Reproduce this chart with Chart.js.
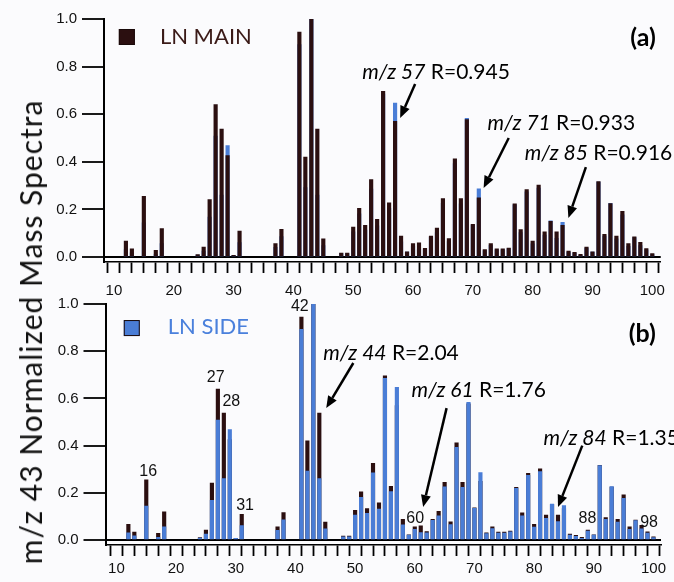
<!DOCTYPE html>
<html><head><meta charset="utf-8">
<script src="https://cdn.jsdelivr.net/npm/chart.js@4.4.1/dist/chart.umd.min.js"></script>
<style>
html,body{margin:0;padding:0;background:#fbfbfd;}
#wrap{position:relative;width:674px;height:582px;overflow:hidden;background:#fbfbfd;}
canvas{position:absolute;left:0;top:0;}
#ytitle{position:absolute;left:30px;top:332px;transform:translate(-50%,-50%) rotate(-90deg);font-family:Lato,sans-serif;font-size:30px;letter-spacing:1px;white-space:nowrap;color:#111;}
</style></head><body>
<div id="wrap">
<canvas id="ca" width="674" height="582"></canvas>
<canvas id="cb" width="674" height="582"></canvas>
<div id="ytitle">m/z 43 Normalized Mass Spectra</div>
</div>
<script>
// ---- data ----
const mz = [12,13,15,17,18,24,25,26,27,28,29,30,31,37,38,41,42,43,44,45,
  48,49,50,51,52,53,54,55,56,57,58,59,60,61,62,63,64,65,66,67,68,69,70,
  71,72,73,74,75,76,77,78,79,80,81,82,83,84,85,86,87,88,89,90,91,92,93,
  94,95,96,97,98,99,100];
const lnMain = [0.067,0.034,0.255,0.028,0.119,0.010,0.042,0.241,0.640,0.538,0.426,0.007,0.109,0.056,0.116,0.945,0.420,1.000,0.538,0.076,
  0.017,0.017,0.126,0.204,0.133,0.325,0.158,0.696,0.228,0.570,0.088,0.022,0.056,0.060,0.036,0.088,0.122,0.245,0.077,0.412,0.245,0.577,0.137,
  0.249,0.031,0.056,0.034,0.034,0.038,0.223,0.115,0.283,0.067,0.302,0.106,0.150,0.106,0.133,0.025,0.020,0.011,0.042,0.022,0.317,0.095,0.224,
  0.088,0.192,0.056,0.085,0.062,0.035,0.014];
const lnSide = [0.031,0.018,0.144,0.011,0.056,0.008,0.025,0.168,0.508,0.260,0.468,0.007,0.061,0.041,0.086,0.893,0.292,1.000,0.260,0.048,
  0.014,0.014,0.106,0.181,0.113,0.285,0.131,0.685,0.205,0.647,0.064,0.021,0.045,0.032,0.031,0.083,0.103,0.225,0.065,0.393,0.223,0.583,0.134,
  0.286,0.027,0.049,0.030,0.030,0.035,0.219,0.103,0.274,0.055,0.290,0.092,0.152,0.078,0.146,0.021,0.016,0.007,0.038,0.021,0.315,0.088,0.226,
  0.076,0.177,0.045,0.082,0.048,0.030,0.010];
const yTickValues = [0,0.2,0.4,0.6,0.8,1.0];
const xMajorLabels = [10,20,30,40,50,60,70,80,90,100];
const peakLabelsB = ['16','27','28','31','42','60','88','98'];

const DARK = '#2b0f10', BLUE = '#4a7dd6';
const xTickValues = []; for (let v = 10; v <= 100; v += 2) xTickValues.push(v);

function pts(vals){ return mz.map((m,i)=>({x:m,y:vals[i]})); }

function drawArrow(ctx,x1,y1,x2,y2){
  const a=Math.atan2(y2-y1,x2-x1),L=12,W=5;
  const bx=x2-L*Math.cos(a),by=y2-L*Math.sin(a);
  ctx.strokeStyle='#000';ctx.fillStyle='#000';ctx.lineWidth=2.5;
  ctx.beginPath();ctx.moveTo(x1,y1);ctx.lineTo(bx,by);ctx.stroke();
  ctx.beginPath();ctx.moveTo(x2,y2);
  ctx.lineTo(bx+W*Math.sin(a),by-W*Math.cos(a));
  ctx.lineTo(bx-W*Math.sin(a),by+W*Math.cos(a));
  ctx.closePath();ctx.fill();
}

function annotPlugin(items){
  return {id:'annot',afterDraw(chart){
    const ctx=chart.ctx,xs=chart.scales.x,ys=chart.scales.y;
    const X=v=>xs.getPixelForValue(v),Y=v=>ys.getPixelForValue(v);
    ctx.save();
    items.forEach(it=>{
      if(it.type==='mz'){
        ctx.textBaseline='middle';ctx.textAlign='left';ctx.fillStyle='#000';
        ctx.font='italic 21px Lato';
        const x0=X(it.x),y0=Y(it.y);
        ctx.fillText(it.it,x0,y0);
        const w=ctx.measureText(it.it).width;
        ctx.font='21px Lato';
        ctx.fillText(it.rest,x0+w,y0);
      } else if(it.type==='arrow'){
        drawArrow(ctx,X(it.x1),Y(it.y1),X(it.x2),Y(it.y2));
      } else if(it.type==='text'){
        ctx.textBaseline='middle';ctx.textAlign=it.align||'center';
        ctx.fillStyle=it.color||'#000';ctx.font=it.font;
        ctx.fillText(it.text,X(it.x),Y(it.y));
      } else if(it.type==='box'){
        ctx.fillStyle=it.color;ctx.strokeStyle='#1a0a0a';ctx.lineWidth=1;
        const x0=X(it.x),y0=Y(it.y);
        ctx.fillRect(x0,y0,16,16);ctx.strokeRect(x0+0.5,y0+0.5,15,15);
      }
    });
    ctx.restore();
  }};
}

function makeOptions(xmin,xmax,pad,xh,xpad){
  return {
    responsive:false,animation:false,devicePixelRatio:1,
    layout:{padding:pad},
    plugins:{legend:{display:false},tooltip:{enabled:false}},
    scales:{
      x:{type:'linear',min:xmin,max:xmax,
        afterBuildTicks:s=>{s.ticks=xTickValues.map(v=>({value:v}));},
        afterFit:s=>{s.height=xh;},
        border:{display:true,color:'#000',width:1.5},
        grid:{drawOnChartArea:false,drawTicks:true,tickLength:11,tickColor:'#000',tickWidth:1.8},
        ticks:{autoSkip:false,maxRotation:0,padding:xpad,color:'#111',
          font:{family:'Liberation Sans',size:15},
          callback:v=>xMajorLabels.includes(v)?String(v):''}
      },
      y:{type:'linear',min:-0.021,max:1.0,
        afterBuildTicks:s=>{s.ticks=yTickValues.map(v=>({value:v}));},
        afterFit:s=>{s.width=pad._yw;},
        border:{display:true,color:'#000',width:2},
        grid:{drawOnChartArea:true,drawTicks:true,tickLength:22,tickColor:'#000',tickWidth:1.8,
          color:c=>c.tick&&c.tick.value===0?'#000':'rgba(0,0,0,0)',lineWidth:2},
        ticks:{padding:5,color:'#111',font:{family:'Liberation Sans',size:15},
          callback:v=>Number(v).toFixed(1)}
      }
    }
  };
}

const itemsA=[
  {type:'box',x:10.82,y:0.958,color:DARK},
  {type:'text',x:17.68,y:0.924,text:'LN MAIN',align:'left',color:'#3a1a17',font:'22px Lato'},
  {type:'text',x:100.6,y:0.92,text:'(a)',align:'right',font:'bold 25px Lato'},
  {type:'mz',x:51.5,y:0.777,it:'m/z 57',rest:' R=0.945'},
  {type:'arrow',x1:60.35,y1:0.727,x2:57.85,y2:0.584},
  {type:'mz',x:72.45,y:0.563,it:'m/z 71',rest:' R=0.933'},
  {type:'arrow',x1:76.0,y1:0.50,x2:71.8,y2:0.29},
  {type:'mz',x:78.66,y:0.437,it:'m/z 85',rest:' R=0.916'},
  {type:'arrow',x1:88.9,y1:0.378,x2:85.97,y2:0.164}
];
const lblPos=[[15.33,0.292],[26.64,0.69],[29.26,0.585],[31.56,0.148],[40.74,0.99],[60.08,0.089],[88.93,0.089],[99.26,0.076]];
const itemsB=[
  {type:'box',x:11.23,y:0.932,color:BLUE},
  {type:'text',x:18.6,y:0.9025,text:'LN SIDE',align:'left',color:'#4a80dc',font:'22px Lato'},
  {type:'text',x:100.4,y:0.873,text:'(b)',align:'right',font:'bold 25px Lato'},
  {type:'mz',x:44.67,y:0.792,it:'m/z 44',rest:' R=2.04'},
  {type:'arrow',x1:49.7,y1:0.75,x2:45.16,y2:0.559},
  {type:'mz',x:59.43,y:0.636,it:'m/z 61',rest:' R=1.76'},
  {type:'arrow',x1:65.33,y1:0.559,x2:61.4,y2:0.14},
  {type:'mz',x:81.56,y:0.432,it:'m/z 84',rest:' R=1.35'},
  {type:'arrow',x1:88.07,y1:0.40,x2:84.0,y2:0.14}
].concat(peakLabelsB.map((t,i)=>({type:'text',x:lblPos[i][0],y:lblPos[i][1],text:t,font:'16px Liberation Sans',color:'#111'})));

const padA={left:0,right:13,top:19,bottom:280,_yw:104};
const padB={left:0,right:13,top:304,bottom:8,_yw:105.5};

new Chart(document.getElementById('ca'),{
  type:'bar',
  data:{datasets:[
    {label:'LN MAIN',data:pts(lnMain),backgroundColor:DARK,barThickness:3.5,grouped:false},
    {label:'LN SIDE',data:pts(lnSide),backgroundColor:BLUE,barThickness:3.5,grouped:false}
  ]},
  options:makeOptions(9.35,100.4,padA,40,9),
  plugins:[annotPlugin(itemsA)]
});
new Chart(document.getElementById('cb'),{
  type:'bar',
  data:{datasets:[
    {label:'LN SIDE',data:pts(lnSide),backgroundColor:BLUE,barThickness:3.5,grouped:false},
    {label:'LN MAIN',data:pts(lnMain),backgroundColor:DARK,barThickness:3.5,grouped:false}
  ]},
  options:makeOptions(9.18,100.25,padB,29,4),
  plugins:[annotPlugin(itemsB)]
});
</script>
</body></html>
